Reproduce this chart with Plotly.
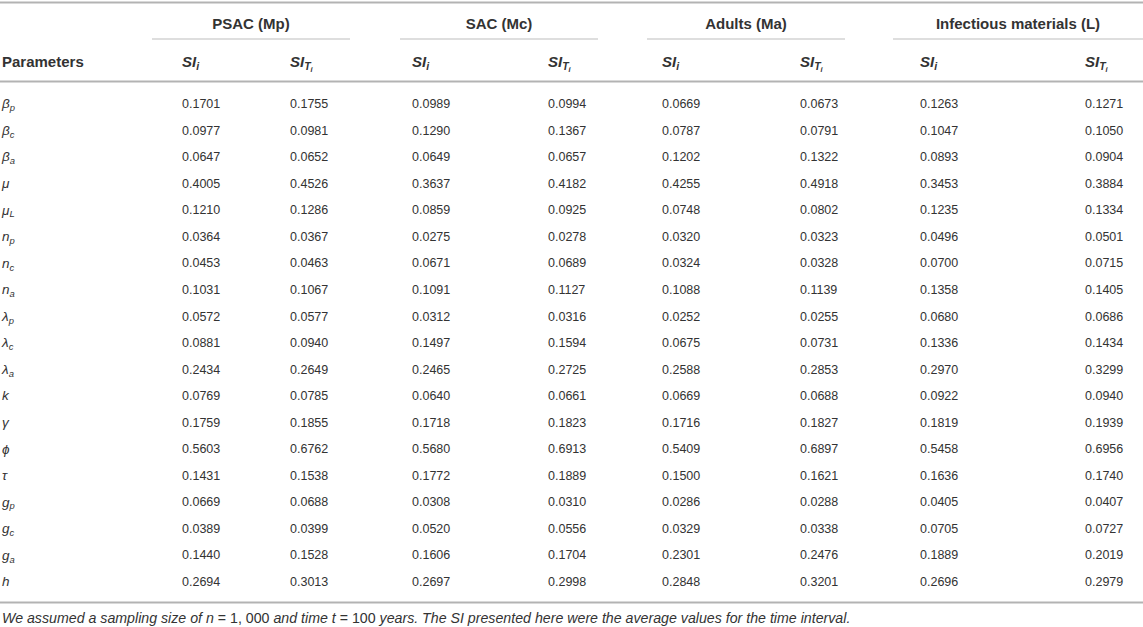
import plotly.graph_objects as go

# table data

params = [
    "<i>β<sub>p</sub></i>", "<i>β<sub>c</sub></i>", "<i>β<sub>a</sub></i>",
    "<i>μ</i>", "<i>μ<sub>L</sub></i>",
    "<i>n<sub>p</sub></i>", "<i>n<sub>c</sub></i>", "<i>n<sub>a</sub></i>",
    "<i>λ<sub>p</sub></i>", "<i>λ<sub>c</sub></i>", "<i>λ<sub>a</sub></i>",
    "<i>k</i>", "<i>γ</i>", "<i>ϕ</i>", "<i>τ</i>",
    "<i>g<sub>p</sub></i>", "<i>g<sub>c</sub></i>", "<i>g<sub>a</sub></i>",
    "<i>h</i>",
]

groups = ["PSAC (Mp)", "SAC (Mc)", "Adults (Ma)", "Infectious materials (L)"]

psac_si = ["0.1701", "0.0977", "0.0647", "0.4005", "0.1210", "0.0364", "0.0453", "0.1031", "0.0572", "0.0881",
           "0.2434", "0.0769", "0.1759", "0.5603", "0.1431", "0.0669", "0.0389", "0.1440", "0.2694"]
psac_st = ["0.1755", "0.0981", "0.0652", "0.4526", "0.1286", "0.0367", "0.0463", "0.1067", "0.0577", "0.0940",
           "0.2649", "0.0785", "0.1855", "0.6762", "0.1538", "0.0688", "0.0399", "0.1528", "0.3013"]
sac_si = ["0.0989", "0.1290", "0.0649", "0.3637", "0.0859", "0.0275", "0.0671", "0.1091", "0.0312", "0.1497",
          "0.2465", "0.0640", "0.1718", "0.5680", "0.1772", "0.0308", "0.0520", "0.1606", "0.2697"]
sac_st = ["0.0994", "0.1367", "0.0657", "0.4182", "0.0925", "0.0278", "0.0689", "0.1127", "0.0316", "0.1594",
          "0.2725", "0.0661", "0.1823", "0.6913", "0.1889", "0.0310", "0.0556", "0.1704", "0.2998"]
adult_si = ["0.0669", "0.0787", "0.1202", "0.4255", "0.0748", "0.0320", "0.0324", "0.1088", "0.0252", "0.0675",
            "0.2588", "0.0669", "0.1716", "0.5409", "0.1500", "0.0286", "0.0329", "0.2301", "0.2848"]
adult_st = ["0.0673", "0.0791", "0.1322", "0.4918", "0.0802", "0.0323", "0.0328", "0.1139", "0.0255", "0.0731",
            "0.2853", "0.0688", "0.1827", "0.6897", "0.1621", "0.0288", "0.0338", "0.2476", "0.3201"]
inf_si = ["0.1263", "0.1047", "0.0893", "0.3453", "0.1235", "0.0496", "0.0700", "0.1358", "0.0680", "0.1336",
          "0.2970", "0.0922", "0.1819", "0.5458", "0.1636", "0.0405", "0.0705", "0.1889", "0.2696"]
inf_st = ["0.1271", "0.1050", "0.0904", "0.3884", "0.1334", "0.0501", "0.0715", "0.1405", "0.0686", "0.1434",
          "0.3299", "0.0940", "0.1939", "0.6956", "0.1740", "0.0407", "0.0727", "0.2019", "0.2979"]

columns = [psac_si, psac_st, sac_si, sac_st, adult_si, adult_st, inf_si, inf_st]
sub_headers = ["<b><i>SI<sub>i</sub></i></b>", "<b><i>SI<sub>T<sub>i</sub></sub></i></b>"] * 4

footnote = ("<i>We assumed a sampling size of n</i> = 1, 000 <i>and time t</i> = 100 <i>years. "
            "The SI presented here were the average values for the time interval.</i>")

# layout (pixel coordinates)

W, H = 1143, 627
col_x = [182, 290, 412, 548, 662, 800, 920, 1085]
group_span = [(152, 350), (400, 598), (647, 845), (893, 1143)]
row0, row_step = 105, 26.55
y_group, y_sub, y_foot = 25, 63, 619
txt = "#333333"
fam = "Liberation Sans, Arial, sans-serif"
num_font = dict(family=fam, size=12.5, color=txt)
head_font = dict(family=fam, size=15, color=txt)

row_y = [row0 + i * row_step for i in range(len(params))]

fig = go.Figure()

# parameter names
fig.add_trace(go.Scatter(x=[2] * len(params), y=row_y, text=params, mode="text",
                         textposition="middle right", textfont=dict(family=fam, size=13.5, color=txt),
                         hoverinfo="skip"))

# value columns
for cx, vals, sh in zip(col_x, columns, sub_headers):
    fig.add_trace(go.Scatter(x=[cx] * len(vals), y=row_y, text=vals, mode="text",
                             textposition="middle right", textfont=num_font, hoverinfo="skip"))
    fig.add_trace(go.Scatter(x=[cx], y=[y_sub], text=[sh], mode="text",
                             textposition="middle right", textfont=head_font, hoverinfo="skip"))

# group headers
fig.add_trace(go.Scatter(x=[(a + b) / 2 for a, b in group_span], y=[y_group] * 4,
                         text=["<b>%s</b>" % g for g in groups], mode="text",
                         textposition="middle center", textfont=head_font, hoverinfo="skip"))

fig.add_trace(go.Scatter(x=[2], y=[y_sub], text=["<b>Parameters</b>"], mode="text",
                         textposition="middle right", textfont=head_font, hoverinfo="skip"))

fig.add_trace(go.Scatter(x=[2], y=[y_foot], text=[footnote], mode="text",
                         textposition="middle right",
                         textfont=dict(family=fam, size=14.2, color=txt),
                         hoverinfo="skip"))

# rules
shapes = []
for y in [2.5, 81.5, 602.5]:
    shapes.append(dict(type="line", x0=0, x1=W, y0=y, y1=y, line=dict(color="#b3b3b3", width=2)))
for a, b in group_span:
    shapes.append(dict(type="line", x0=a, x1=b, y0=39, y1=39, line=dict(color="#bdbdbd", width=1)))

fig.update_layout(
    width=W, height=H,
    margin=dict(l=0, r=0, t=0, b=0),
    paper_bgcolor="white", plot_bgcolor="white",
    showlegend=False,
    shapes=shapes,
    xaxis=dict(range=[0, W], visible=False, fixedrange=True),
    yaxis=dict(range=[H, 0], visible=False, fixedrange=True),
)

fig.write_html("out.html", config={"displayModeBar": False},
               post_script="document.body.style.margin='0';document.body.style.overflow='hidden';")
